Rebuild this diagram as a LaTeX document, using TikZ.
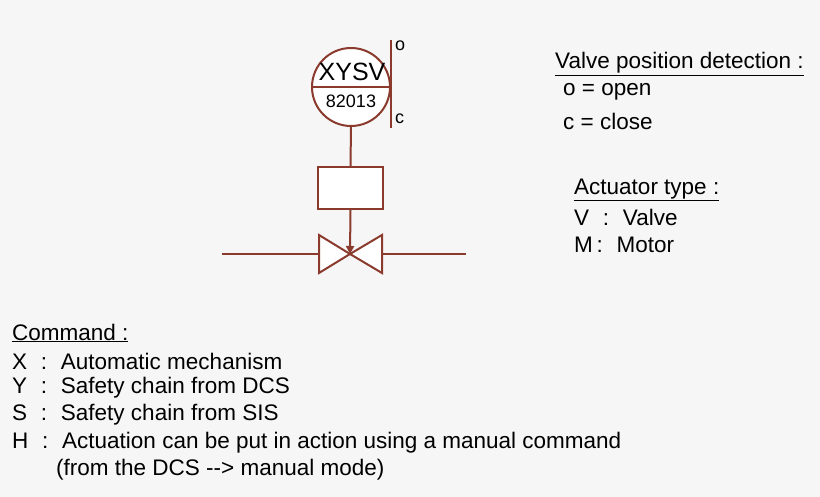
\documentclass[tikz,border=0pt]{standalone}
\usepackage{fontspec}
\setmainfont{Liberation Sans}
\usetikzlibrary{arrows.meta}
\definecolor{br}{HTML}{8B3A2E}
\definecolor{bg}{HTML}{F6F6F6}
\begin{document}
\begin{tikzpicture}[x=1pt,y=-1pt,
  ln/.style={draw=br,line width=2pt},
  txt/.style={anchor=west,inner sep=0pt,font=\fontsize{22.5}{26}\selectfont,text=black},
  sm/.style={inner sep=0pt,font=\fontsize{18}{20}\selectfont,text=black}]
\fill[bg] (0,0) rectangle (820,497);
\useasboundingbox (0,0) rectangle (820,497);
% instrument
\node[circle,ln,fill=white,minimum size=78pt,inner sep=0pt] (ci) at (351,87) {};
\draw[ln] (ci.west) -- (ci.east);
\node[inner sep=0pt,font=\fontsize{25}{28}\selectfont] (tag) at (352,72) {XYSV};
\node[sm] (num) at (351,101) {82013};
\coordinate (bt) at (391,40);
\coordinate (bb) at (391,128);
\draw[ln] (bt) -- (bb);
\node[sm,anchor=west] (o) at (395,46) {o};
\node[sm,anchor=west] (c) at (395,119) {c};
% actuator box
\node[ln,fill=white,minimum width=65pt,minimum height=42pt,inner sep=0pt] (box) at (350.5,188) {};
\draw[ln] (ci.south) -- (box.north);
% valve
\coordinate (vc) at (350,254);
\coordinate (l1) at (319,235); \coordinate (l2) at (319,273);
\coordinate (r1) at (382,235); \coordinate (r2) at (382,273);
\draw[ln,fill=white,line join=miter] (vc) -- (l1) -- (l2) -- cycle;
\draw[ln,fill=white,line join=miter] (vc) -- (r1) -- (r2) -- cycle;
\coordinate (pl) at (222,254); \coordinate (pr) at (466,254);
\draw[ln] (pl) -- (l1 |- vc);
\draw[ln] (r1 |- vc) -- (pr);
\draw[ln,-{Triangle[length=8pt,width=8pt]}] (box.south) -- (vc);
% legend
\node[txt] (t1) at (555,64) {\underline{Valve position detection :}};
\node[txt] (t2) at (563,92) {o = open};
\node[txt] (t3) at (563,121) {c = close};
\node[txt] (t4) at (574,190) {\underline{Actuator type :}};
\node[txt] (t5) at (574,217) {V\,\, :\,\, Valve};
\node[txt] (t6) at (574,245) {M\,:\,\, Motor};
\node[txt] (k0) at (12,333) {\underline{Command :}};
\node[txt] (k1) at (12,361) {X\,\, :\,\, Automatic mechanism};
\node[txt] (k2) at (12,388) {Y\,\, :\,\, Safety chain from DCS};
\node[txt] (k3) at (12,415) {S\,\, :\,\, Safety chain from SIS};
\node[txt] (k4) at (12,443) {H\,\, :\,\, Actuation can be put in action using a manual command};
\node[txt] (k5) at (56,470) {(from the DCS {-}{-}> manual mode)};
\end{tikzpicture}
\end{document}
